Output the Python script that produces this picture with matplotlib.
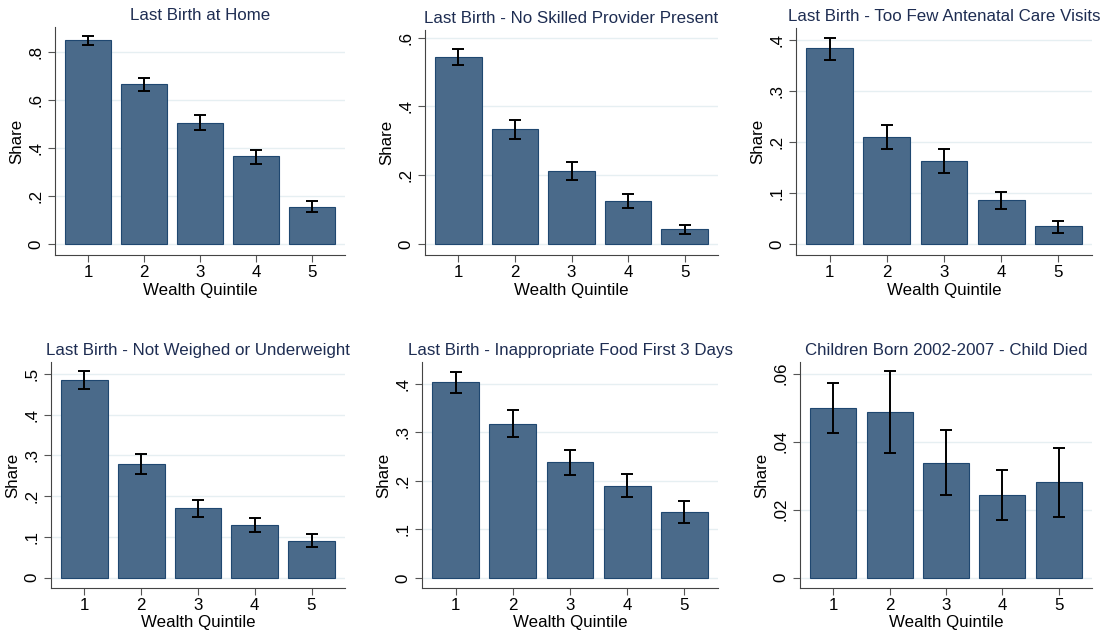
import numpy as np
import matplotlib.pyplot as plt

plt.rcParams['font.family'] = ['Liberation Sans', 'DejaVu Sans']

quintiles = [1, 2, 3, 4, 5]

titles = [
    "Last Birth at Home",
    "Last Birth - No Skilled Provider Present",
    "Last Birth - Too Few Antenatal Care Visits",
    "Last Birth - Not Weighed or Underweight",
    "Last Birth - Inappropriate Food First 3 Days",
    "Children Born 2002-2007 - Child Died",
]

home_share = [0.849, 0.668, 0.507, 0.366, 0.156]
home_lo = [0.831, 0.638, 0.476, 0.335, 0.135]
home_hi = [0.866, 0.694, 0.538, 0.394, 0.179]

noskill_share = [0.544, 0.335, 0.213, 0.127, 0.044]
noskill_lo = [0.521, 0.307, 0.187, 0.106, 0.031]
noskill_hi = [0.567, 0.362, 0.238, 0.147, 0.056]

anc_share = [0.384, 0.210, 0.163, 0.086, 0.035]
anc_lo = [0.362, 0.187, 0.139, 0.070, 0.023]
anc_hi = [0.405, 0.233, 0.186, 0.102, 0.046]

weigh_share = [0.485, 0.280, 0.170, 0.130, 0.091]
weigh_lo = [0.464, 0.255, 0.149, 0.112, 0.075]
weigh_hi = [0.507, 0.303, 0.191, 0.147, 0.107]

food_share = [0.403, 0.318, 0.238, 0.190, 0.136]
food_lo = [0.382, 0.291, 0.212, 0.166, 0.114]
food_hi = [0.425, 0.345, 0.264, 0.214, 0.158]

died_share = [0.0500, 0.0487, 0.0337, 0.0244, 0.0282]
died_lo = [0.0425, 0.0366, 0.0242, 0.0171, 0.0180]
died_hi = [0.0573, 0.0607, 0.0433, 0.0317, 0.0382]

yticks = [
    [0, 0.2, 0.4, 0.6, 0.8],
    [0, 0.2, 0.4, 0.6],
    [0, 0.1, 0.2, 0.3, 0.4],
    [0, 0.1, 0.2, 0.3, 0.4, 0.5],
    [0, 0.1, 0.2, 0.3, 0.4],
    [0, 0.02, 0.04, 0.06],
]
ytick_labels = [
    ["0", ".2", ".4", ".6", ".8"],
    ["0", ".2", ".4", ".6"],
    ["0", ".1", ".2", ".3", ".4"],
    ["0", ".1", ".2", ".3", ".4", ".5"],
    ["0", ".1", ".2", ".3", ".4"],
    ["0", ".02", ".04", ".06"],
]
ylims = [(-0.045, 0.905), (-0.031, 0.622), (-0.021, 0.424),
         (-0.025, 0.529), (-0.021, 0.445), (-0.003, 0.0634)]

shares = [home_share, noskill_share, anc_share, weigh_share, food_share, died_share]
lows = [home_lo, noskill_lo, anc_lo, weigh_lo, food_lo, died_lo]
highs = [home_hi, noskill_hi, anc_hi, weigh_hi, food_hi, died_hi]

# axes boxes in pixels: left, top, right, bottom
W, H = 1102, 637
boxes = [(55, 27, 345, 255), (425, 30, 718, 255), (796, 28, 1092, 255),
         (51, 362, 345, 588), (422, 362, 718, 588), (800, 362, 1092, 588)]

fig = plt.figure(figsize=(W / 100, H / 100), dpi=100)

bar_fill = '#4a6a8a'
bar_edge = '#1f4770'
title_col = '#1e2d52'
grid_col = '#e6eff2'
fs = 12.2

for i in range(6):
    l, t, r, b = boxes[i]
    ax = fig.add_axes([l / W, 1 - b / H, (r - l) / W, (b - t) / H])
    y = np.array(shares[i])
    lo = np.array(lows[i])
    hi = np.array(highs[i])
    for yt in yticks[i]:
        ax.axhline(yt, color=grid_col, lw=1.0, zorder=0)
    ax.bar(quintiles, y, width=0.82, color=bar_fill, edgecolor=bar_edge,
           linewidth=0.8, zorder=2)
    ax.errorbar(quintiles, y, yerr=[y - lo, hi - y], fmt='none',
                ecolor='black', elinewidth=1.4, capsize=4.5, capthick=1.4,
                zorder=3)
    ax.set_xlim(0.41, 5.59)
    ax.set_ylim(*ylims[i])
    ax.set_xticks(quintiles)
    ax.set_yticks(yticks[i])
    ax.set_yticklabels(ytick_labels[i], rotation=90, va='center')
    ax.tick_params(labelsize=fs, length=5, width=0.8, color='#555555')
    ax.tick_params(axis='x', pad=2)
    ax.spines['top'].set_visible(False)
    ax.spines['right'].set_visible(False)
    ax.spines['left'].set_color('#444444')
    ax.spines['bottom'].set_color('#444444')
    ax.set_xlabel("Wealth Quintile", fontsize=fs, labelpad=2)
    ax.set_ylabel("Share", fontsize=fs, labelpad=3)
    ax.set_title(titles[i], fontsize=fs, color=title_col, pad=5)

plt.savefig("out.png", dpi=100)
